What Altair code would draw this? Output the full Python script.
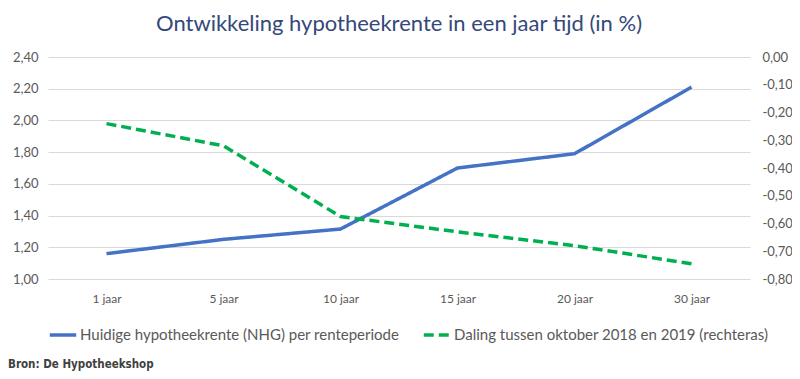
import altair as alt
import pandas as pd

categories = ["1 jaar", "5 jaar", "10 jaar", "15 jaar", "20 jaar", "30 jaar"]
rente = [1.16, 1.25, 1.315, 1.70, 1.79, 2.21]
daling = [-0.24, -0.32, -0.575, -0.63, -0.68, -0.745]
series_names = [
    "Huidige hypotheekrente (NHG) per renteperiode",
    "Daling tussen oktober 2018 en 2019 (rechteras)",
]
left_ticks = [1.0, 1.2, 1.4, 1.6, 1.8, 2.0, 2.2, 2.4]
right_ticks = [0.0, -0.1, -0.2, -0.3, -0.4, -0.5, -0.6, -0.7, -0.8]

df = pd.DataFrame(
    {
        "cat": categories * 2,
        "value": rente + daling,
        "series": [series_names[0]] * 6 + [series_names[1]] * 6,
    }
)

FONT = "Lato"
GRAY = "#595959"
label_expr = "replace(replace(format(datum.value, '.2f'), '.', ','), '\u2212', '-')"

x_enc = alt.X(
    "cat:N",
    sort=categories,
    scale=alt.Scale(type="point", padding=0.5),
    axis=alt.Axis(
        title=None, labelAngle=0, domain=False, ticks=False, labelPadding=14,
        labelFontSize=12, labelColor=GRAY, labelFont=FONT, grid=False,
    ),
)
legend_kw = dict(
    title=None, orient="none", legendX=0, legendY=263, direction="horizontal",
    symbolType="stroke", symbolSize=700, symbolStrokeWidth=3.5,
    labelFont=FONT, labelFontSize=15, labelColor=GRAY, labelLimit=500,
    columnPadding=16, labelOffset=2,
)
color_enc = alt.Color(
    "series:N",
    scale=alt.Scale(domain=series_names, range=["#4472C4", "#00B050"]),
    legend=alt.Legend(**legend_kw),
)
dash_enc = alt.StrokeDash(
    "series:N",
    scale=alt.Scale(domain=series_names, range=[[1, 0], [10, 5]]),
    legend=alt.Legend(**legend_kw),
)

left = (
    alt.Chart(df)
    .transform_filter(alt.datum.series == series_names[0])
    .mark_line(strokeWidth=3.5)
    .encode(
        x=x_enc,
        y=alt.Y(
            "value:Q",
            scale=alt.Scale(domain=[1.0, 2.4], nice=False, zero=False),
            axis=alt.Axis(
                title=None, values=left_ticks, labelExpr=label_expr, domain=False,
                ticks=False, labelPadding=10, labelFontSize=13, labelColor=GRAY,
                labelFont=FONT, grid=True, gridColor="#d9d9d9", gridWidth=1,
            ),
        ),
        color=color_enc,
        strokeDash=dash_enc,
    )
)

right = (
    alt.Chart(df)
    .transform_filter(alt.datum.series == series_names[1])
    .mark_line(strokeWidth=3.5)
    .encode(
        x=x_enc,
        y=alt.Y(
            "value:Q",
            scale=alt.Scale(domain=[-0.8, 0.0], nice=False, zero=False),
            axis=alt.Axis(
                title=None, orient="right", values=right_ticks, labelExpr=label_expr,
                domain=False, ticks=False, labelPadding=12, labelFontSize=13,
                labelColor=GRAY, labelFont=FONT, grid=False,
            ),
        ),
        color=color_enc,
        strokeDash=dash_enc,
    )
)

source = (
    alt.Chart(pd.DataFrame({"t": ["Bron: De Hypotheekshop"]}))
    .mark_text(
        align="left", baseline="middle", font="DejaVu Sans Condensed",
        fontWeight="bold", fontSize=11.5, color="#404040",
    )
    .encode(x=alt.value(-40), y=alt.value(308), text="t:N")
)

chart = (
    alt.layer(left, right, source)
    .resolve_scale(y="independent")
    .properties(
        width=702,
        height=222,
        title=alt.TitleParams(
            "Ontwikkeling hypotheekrente  in een jaar tijd (in %)",
            font=FONT, fontSize=22, fontWeight="normal", color="#34497A",
            anchor="middle", frame="group", offset=15,
        ),
        autosize=alt.AutoSizeParams(type="none"),
        padding={"left": 40, "top": 49, "right": 42, "bottom": 92},
    )
    .configure_view(stroke=None)
)

chart.save("out.html", embed_options={"renderer": "svg", "actions": False})
